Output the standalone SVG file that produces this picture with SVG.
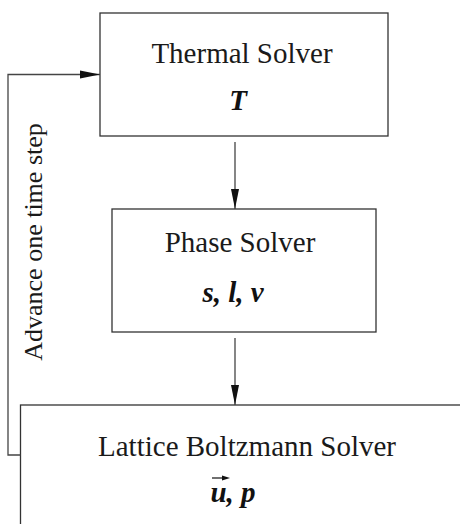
<svg xmlns="http://www.w3.org/2000/svg" width="460" height="524" viewBox="0 0 460 524">
<style>
.box{fill:#fff;stroke:#333;stroke-width:1.3}
.ln{fill:none;stroke:#444;stroke-width:1.3}
.t{font-family:"Liberation Serif","Times New Roman",serif;font-size:29px;fill:#1a1a1a;text-anchor:middle}
.v{font-family:"Liberation Serif","Times New Roman",serif;font-size:29px;font-weight:bold;font-style:italic;fill:#111;text-anchor:middle}
.r{font-family:"Liberation Serif","Times New Roman",serif;font-size:26px;fill:#1a1a1a;text-anchor:middle}
</style>
<defs>
<marker id="ah" viewBox="0 0 20 10" refX="20" refY="5" markerWidth="20" markerHeight="10" markerUnits="userSpaceOnUse" orient="auto">
<path d="M0,1 L20,5 L0,9 Z" fill="#111"/>
</marker>
</defs>
<rect width="460" height="524" fill="#fff"/>
<g id="thermal">
<rect class="box" x="100" y="13" width="288" height="123"/>
<text class="t" x="242" y="63">Thermal Solver</text>
<text class="v" x="238" y="110">T</text>
</g>
<g id="phase">
<rect class="box" x="112" y="209" width="264" height="123"/>
<text class="t" x="240" y="252">Phase Solver</text>
<text class="v" x="233" y="302">s, l, v</text>
</g>
<g id="lb">
<rect class="box" x="20.5" y="405" width="460" height="140"/>
<text class="t" x="247" y="456">Lattice Boltzmann Solver</text>
<text class="v" x="233" y="502">u, p</text>
<line x1="212" y1="478" x2="224" y2="478" stroke="#111" stroke-width="1.2"/>
<path d="M222,475.5 L230,478 L222,480.5 Z" fill="#111"/>
</g>
<g id="connectors">
<line class="ln" x1="235" y1="142" x2="235" y2="209" marker-end="url(#ah)"/>
<line class="ln" x1="235" y1="338" x2="235" y2="405" marker-end="url(#ah)"/>
<polyline class="ln" points="20.5,455 8,455 8,74.5 100,74.5" marker-end="url(#ah)"/>
<text class="r" transform="translate(42,242) rotate(-90)">Advance one time step</text>
</g>
</svg>
